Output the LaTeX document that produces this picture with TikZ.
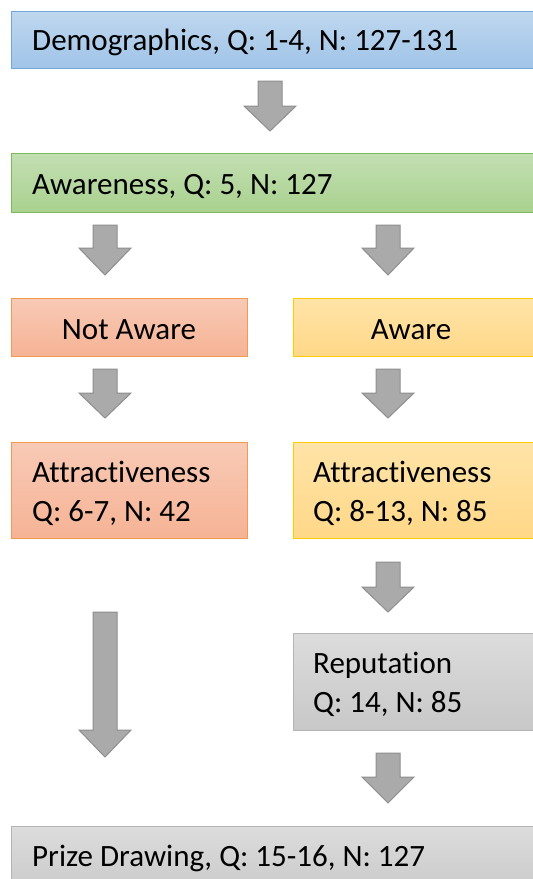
\documentclass[tikz,border=0pt]{standalone}
\usepackage{fontspec}
\setmainfont{Carlito}[Ligatures=NoCommon]
\definecolor{blueTop}{HTML}{BFD7EE}
\definecolor{blueBot}{HTML}{A0C4E8}
\definecolor{blueLine}{HTML}{6FA8DC}
\definecolor{greenTop}{HTML}{C3DFB3}
\definecolor{greenBot}{HTML}{A9D18E}
\definecolor{greenLine}{HTML}{7DB95A}
\definecolor{orangeTop}{HTML}{F8CAB6}
\definecolor{orangeBot}{HTML}{F6B395}
\definecolor{orangeLine}{HTML}{F39A52}
\definecolor{yellowTop}{HTML}{FFE4A8}
\definecolor{yellowBot}{HTML}{FFD888}
\definecolor{yellowLine}{HTML}{FFCC00}
\definecolor{grayTop}{HTML}{DCDCDC}
\definecolor{grayBot}{HTML}{C8C8C8}
\definecolor{grayLine}{HTML}{B4B4B4}
\definecolor{arrowFill}{HTML}{AAAAAA}
\definecolor{arrowLine}{HTML}{8E8E8E}
\tikzset{
  x=1pt, y=-1pt,
  boxline/.style={line width=1pt},
  bluebox/.style={boxline, draw=blueLine, top color=blueTop, bottom color=blueBot},
  greenbox/.style={boxline, draw=greenLine, top color=greenTop, bottom color=greenBot},
  orangebox/.style={boxline, draw=orangeLine, top color=orangeTop, bottom color=orangeBot},
  yellowbox/.style={boxline, draw=yellowLine, top color=yellowTop, bottom color=yellowBot},
  graybox/.style={boxline, draw=grayLine, top color=grayTop, bottom color=grayBot},
  label/.style={font=\fontsize{31}{39}\selectfont, inner sep=0pt, align=left, text=black},
  blockarrow/.style={fill=arrowFill, draw=arrowLine, line width=1pt, line join=miter},
}
% down-pointing block arrow: centre x, shaft top, head start, tip
\newcommand\downarrowblock[4]{%
  \draw[blockarrow] ({#1-12},#2) -- ({#1+12},#2) -- ({#1+12},#3) -- ({#1+26},#3)
    -- (#1,#4) -- ({#1-26},#3) -- ({#1-12},#3) -- cycle;}
\begin{document}
\begin{tikzpicture}
\useasboundingbox (0,0) rectangle (533,879);
\clip (0,0) rectangle (533,879);
\fill[white] (0,0) rectangle (533,879);

% boxes (the wide ones run past the right edge)
\draw[bluebox]   (11,11)  rectangle (545,68);
\draw[greenbox]  (11,153) rectangle (545,212);
\draw[orangebox] (11,298) rectangle (247,356);
\draw[yellowbox] (293,298) rectangle (545,356);
\draw[orangebox] (11,442) rectangle (247,538);
\draw[yellowbox] (293,442) rectangle (545,538);
\draw[graybox]   (293,633) rectangle (545,730);
\draw[graybox]   (11,826) rectangle (545,900);

% labels
\node[label, anchor=base west] (demo) at (32,50) {Demographics, Q: 1-4, N: 127-131};
\node[label, anchor=base west] (aw)   at (32,194) {Awareness, Q: 5, N: 127};
\node[label, anchor=base] (notaw) at (129,339) {Not Aware};
\node[label, anchor=base] (yesaw) at (411,339) {Aware};
\node[label, anchor=base west] (attrL) at (32,482) {Attractiveness};
\node[label, anchor=base west] (attrLq) at (32,521) {Q: 6-7, N: 42};
\node[label, anchor=base west] (attrR) at (313,482) {Attractiveness};
\node[label, anchor=base west] (attrRq) at (313,521) {Q: 8-13, N: 85};
\node[label, anchor=base west] (rep) at (313,673) {Reputation};
\node[label, anchor=base west] (repq) at (313,712) {Q: 14, N: 85};
\node[label, anchor=base west] (prize) at (32,866) {Prize Drawing, Q: 15-16, N: 127};

% arrows
\downarrowblock{270}{81}{106}{131}
\downarrowblock{105}{225}{248}{275}
\downarrowblock{388}{225}{248}{275}
\downarrowblock{105}{369}{393}{418}
\downarrowblock{388}{369}{393}{418}
\downarrowblock{388}{562}{587}{612}
\downarrowblock{105}{612}{730}{757}
\downarrowblock{388}{753}{777}{803}
\end{tikzpicture}
\end{document}
